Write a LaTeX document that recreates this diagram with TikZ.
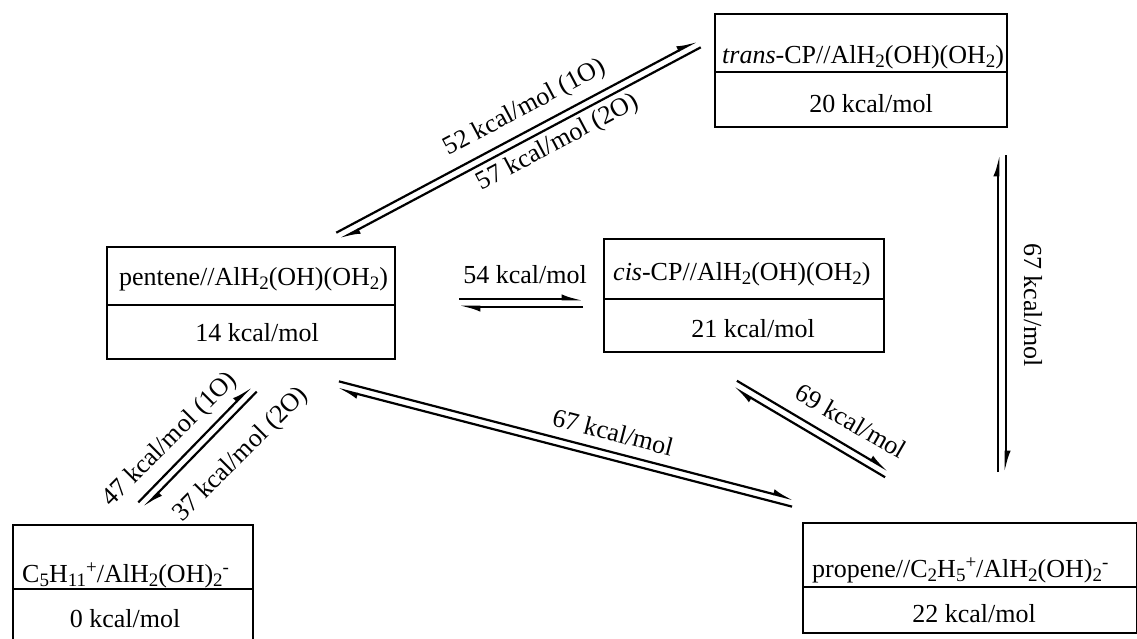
\documentclass[tikz,border=0pt]{standalone}
\usepackage{fontspec}
\setmainfont{Liberation Serif}
\usetikzlibrary{arrows.meta,calc}
\newcommand\eqarr[2]{%
  \draw[eqline] ($(#1)!3.75pt!90:(#2)$) -- ($(#2)!3.75pt!-90:(#1)$);
  \draw[eqline] ($(#2)!3.75pt!90:(#1)$) -- ($(#1)!3.75pt!-90:(#2)$);}
\newcommand\sbs[1]{\raisebox{-4pt}{\fontsize{19}{20}\selectfont #1}}
\newcommand\sps[1]{\raisebox{9pt}{\fontsize{19}{20}\selectfont #1}}
\begin{document}
\begin{tikzpicture}[x=1pt,y=-1pt,
  font=\fontsize{26}{30}\selectfont,
  box/.style={draw, line width=1.6pt, rectangle, inner sep=0pt, anchor=north west},
  divline/.style={line width=1.6pt},
  txt/.style={inner sep=0pt, anchor=base},
  txtw/.style={inner sep=0pt, anchor=base west},
  lbl/.style={inner sep=0pt},
  eqline/.style={line width=2.2pt, -{Latex[left,length=16pt,width=10pt]}}]
\useasboundingbox (0,0) rectangle (1137,638);

% trans box
\node[box, minimum width=292pt, minimum height=113pt] (trans) at (714,13) {};
\draw[divline] (714,72) -- (1006,72);
\node[txtw] (transname) at (722,63) {\textit{trans}-CP//AlH\sbs{2}(OH)(OH\sbs{2})};
\node[txt] (transE) at (871,112) {20 kcal/mol};

% pentene box
\node[box, minimum width=288pt, minimum height=112pt] (pent) at (106,246) {};
\draw[divline] (106,305) -- (394,305);
\node[txtw] (pentname) at (119,285) {pentene//AlH\sbs{2}(OH)(OH\sbs{2})};
\node[txt] (pentE) at (257,341) {14 kcal/mol};

% cis box
\node[box, minimum width=280pt, minimum height=113pt] (cis) at (603,238) {};
\draw[divline] (603,299) -- (883,299);
\node[txtw] (cisname) at (613,280) {\textit{cis}-CP//AlH\sbs{2}(OH)(OH\sbs{2})};
\node[txt] (cisE) at (753,337) {21 kcal/mol};

% C5H11 box
\node[box, minimum width=240pt, minimum height=121pt] (carb) at (12,524) {};
\draw[divline] (12,589) -- (252,589);
\node[txtw] (carbname) at (22,582) {C\sbs{5}H\sbs{11}\sps{+}/AlH\sbs{2}(OH)\sbs{2}\sps{-}};
\node[txt] (carbE) at (125,627) {0 kcal/mol};

% propene box
\node[box, minimum width=334pt, minimum height=110pt] (prop) at (802,522) {};
\draw[divline] (802,587) -- (1136,587);
\node[txtw] (propname) at (812,577) {propene//C\sbs{2}H\sbs{5}\sps{+}/AlH\sbs{2}(OH)\sbs{2}\sps{-}};
\node[txt] (propE) at (974,622) {22 kcal/mol};

% arrow end points
\coordinate (a1s) at (338,236);  \coordinate (a1e) at (699,44);
\coordinate (a2s) at (459,303);  \coordinate (a2e) at (583,303);
\coordinate (a3s) at (141,505);  \coordinate (a3e) at (254,389);
\coordinate (a4s) at (338,385);  \coordinate (a4e) at (793,503);
\coordinate (a5s) at (735,384);  \coordinate (a5e) at (887,474);
\coordinate (a6s) at (1002,155); \coordinate (a6e) at (1002,472);

\eqarr{a1s}{a1e}
\eqarr{a2s}{a2e}
\eqarr{a3s}{a3e}
\eqarr{a4s}{a4e}
\eqarr{a5s}{a5e}
\eqarr{a6s}{a6e}

% labels
\node[lbl, rotate=28] (l52) at (525,108) {52 kcal/mol (1O)};
\node[lbl, rotate=28] (l57) at (558,143) {57 kcal/mol (2O)};
\node[txt] (l54) at (525,283) {54 kcal/mol};
\node[lbl, rotate=45] (l47) at (170,440) {47 kcal/mol (1O)};
\node[lbl, rotate=45] (l37) at (241,455) {37 kcal/mol (2O)};
\node[lbl, rotate=-14.5] (l67a) at (613,432) {67 kcal/mol};
\node[lbl, rotate=-30] (l69) at (851,421) {69 kcal/mol};
\node[lbl, rotate=-90] (l67b) at (1033,305) {67 kcal/mol};
\end{tikzpicture}
\end{document}
